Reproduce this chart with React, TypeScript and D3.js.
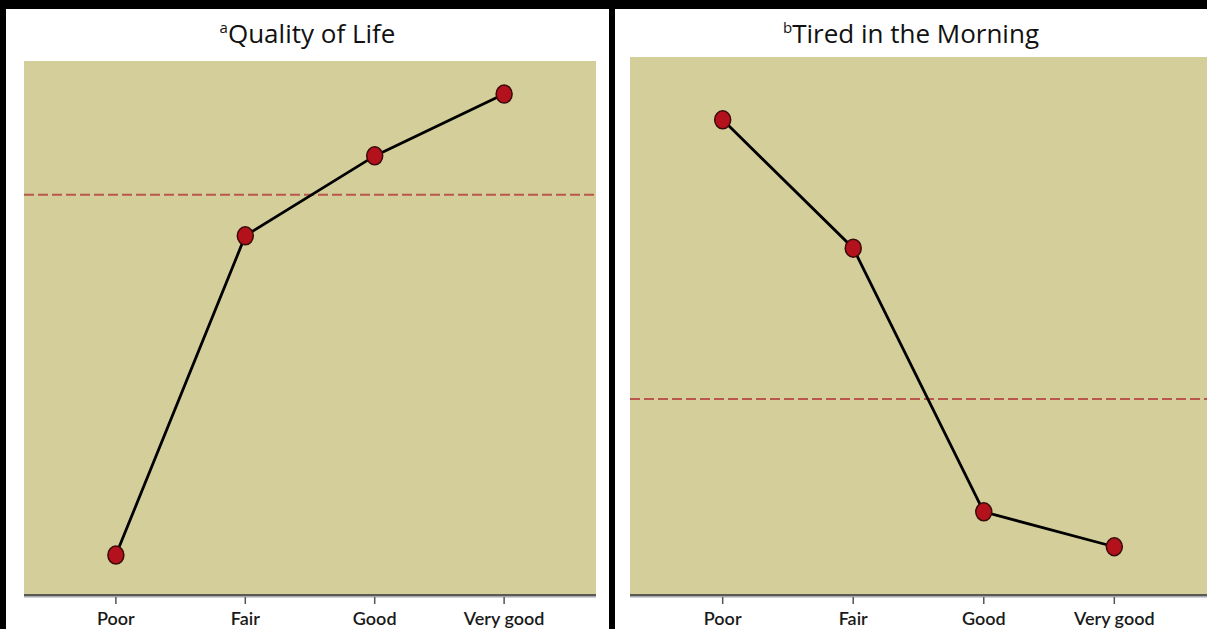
import React from "react";
import * as d3 from "d3";

const categories = ["Poor", "Fair", "Good", "Very good"];
const qualityValues = [7.3, 67.2, 82.2, 93.8];
const qualityRef = 74.9;
const tiredValues = [88.3, 64.4, 15.3, 8.8];
const tiredRef = 36.3;

const W = 1207;
const H = 629;

type PanelProps = {
  x0: number; x1: number; yTop: number; yBottom: number;
  panelLeft: number; panelRight: number;
  sup: string; title: string; values: number[]; refVal: number;
};

function Panel(p: PanelProps) {
  const x = d3.scalePoint<string>().domain(categories).range([p.x0, p.x1]).padding(0.71);
  const y = d3.scaleLinear().domain([0, 100]).range([p.yBottom, p.yTop]);
  const line = d3.line<number>().x((_, i) => x(categories[i]) as number).y((v) => y(v));
  const cx = (p.panelLeft + p.panelRight) / 2;
  return (
    <g>
      <rect x={p.panelLeft} y={9} width={p.panelRight - p.panelLeft} height={H - 9} fill="#ffffff" />
      <text x={cx} y={43} textAnchor="middle" fontFamily="'Open Sans', sans-serif" fontSize={26} fill="#111">
        <tspan fontSize={15} dy={-10}>{p.sup}</tspan>
        <tspan dy={10}>{p.title}</tspan>
      </text>
      <rect x={p.x0} y={p.yTop} width={p.x1 - p.x0} height={p.yBottom - p.yTop} fill="#d4cf9a" />
      <line x1={p.x0} x2={p.x1} y1={y(p.refVal)} y2={y(p.refVal)} stroke="#b9574e" strokeWidth={2} strokeDasharray="10,4" />
      <path d={line(p.values) || ""} fill="none" stroke="#000" strokeWidth={2.8} />
      {p.values.map((v, i) => (
        <ellipse key={i} cx={x(categories[i])} cy={y(v)} rx={8} ry={9} fill="#b3121c" stroke="#3a0a0a" strokeWidth={1.5} />
      ))}
      <rect x={p.x0} y={p.yBottom} width={p.x1 - p.x0} height={2} fill="#5a5a52" />
      <rect x={p.x0} y={p.yBottom + 2} width={p.x1 - p.x0} height={1.5} fill="#a8a8b0" />
      {categories.map((c) => (
        <g key={c}>
          <line x1={x(c)} x2={x(c)} y1={p.yBottom + 3} y2={p.yBottom + 10} stroke="#555" strokeWidth={1.5} />
          <text x={x(c)} y={625} textAnchor="middle" fontFamily="Lato, 'Open Sans', sans-serif" fontWeight={600} fontSize={18} fill="#1a1a1a">{c}</text>
        </g>
      ))}
    </g>
  );
}

export default function App() {
  return (
    <svg width={W} height={H} style={{ position: "absolute", left: 0, top: 0, display: "block" }}>
      <rect x={0} y={0} width={W} height={H} fill="#000" />
      <Panel x0={24} x1={596} yTop={61} yBottom={594} panelLeft={6} panelRight={609}
        sup="a" title="Quality of Life" values={qualityValues} refVal={qualityRef} />
      <Panel x0={630} x1={1207} yTop={57} yBottom={594} panelLeft={615} panelRight={1207}
        sup="b" title="Tired in the Morning" values={tiredValues} refVal={tiredRef} />
    </svg>
  );
}
